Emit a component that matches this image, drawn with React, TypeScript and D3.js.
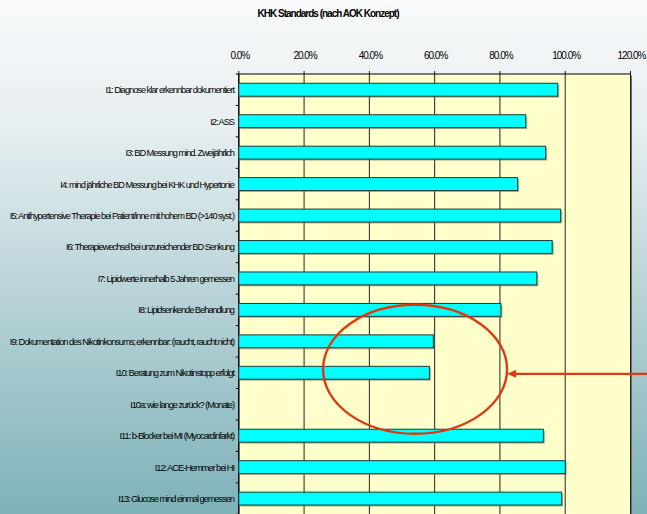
import React from "react";
import * as d3 from "d3";

const TITLE = "KHK Standards (nach AOK Konzept)";

const categories: string[] = [
  "I1: Diagnose klar erkennbar dokumentiert",
  "I2: ASS",
  "I3: BD Messung mind. Zweijährlich",
  "I4: mind jährliche BD Messung bei KHK und Hypertonie",
  "I5: Antihypertensive Therapie bei Patient/inne mit hohem BD (>140 syst.)",
  "I6: Therapiewechsel bei unzureichender BD Senkung",
  "I7: Lipidwerte innerhalb 5 Jahren gemessen",
  "I8: Lipidsenkende Behandlung",
  "I9: Dokumentation des Nikotinkonsums; erkennbar: (raucht, raucht nicht)",
  "I10: Beratung zum Nikotinstopp erfolgt",
  "I10a: wie lange zurück? (Monate)",
  "I11: b-Blocker bei MI (Myocardinfarkt)",
  "I12: ACE-Hemmer bei HI",
  "I13: Glucose mind einmal gemessen",
];

const values: (number | null)[] = [
  0.977, 0.879, 0.94, 0.854, 0.986, 0.96, 0.913, 0.803, 0.596, 0.584, null, 0.933, 1.0, 0.989,
];

const tickValues: number[] = [0, 0.2, 0.4, 0.6, 0.8, 1.0, 1.2];
const tickLabels: string[] = ["0.0%", "20.0%", "40.0%", "60.0%", "80.0%", "100.0%", "120.0%"];

const W = 647;
const H = 514;
const plot = { left: 238.8, right: 630.5, top: 74, bottom: 514.3 };

export default function App() {
  const x = d3.scaleLinear().domain([0, 1.2]).range([plot.left, plot.right]);
  const y = d3
    .scaleBand<string>()
    .domain(categories)
    .range([plot.top, plot.bottom])
    .paddingInner(0.59)
    .paddingOuter(0.295);
  const step = y.step();
  const bw = y.bandwidth();

  const labelFont = "'Liberation Sans', Arial, sans-serif";

  // highlight ellipse around I9/I10/I10a
  const yI9 = (y(categories[8]) as number) + bw / 2;
  const yI10a = (y(categories[10]) as number) + bw / 2;
  const cy = (yI9 + yI10a) / 2 - 3.5;
  const cx = x(0.54);
  const arrowY = cy + 4.5;
  const arrowTip = x(0.822);
  const headLen = 9;
  const headHalf = 4;

  return (
    <svg
      width={W}
      height={H}
      style={{ position: "absolute", left: 0, top: 0, display: "block" }}
      xmlns="http://www.w3.org/2000/svg"
    >
      <defs>
        <linearGradient id="bg" x1="0" y1="0" x2="0" y2="1">
          <stop offset="0" stopColor="#F8FAFB" />
          <stop offset="0.25" stopColor="#E6EEF0" />
          <stop offset="0.55" stopColor="#BCD5D9" />
          <stop offset="1" stopColor="#7DB2B9" />
        </linearGradient>
      </defs>
      <rect x={0} y={0} width={W} height={H} fill="url(#bg)" />

      {/* title */}
      <text
        x={328}
        y={17}
        textAnchor="middle"
        fontFamily={labelFont}
        fontWeight="bold"
        fontSize={10}
        letterSpacing={-1}
        fill="#000"
      >
        {TITLE}
      </text>

      {/* plot area shadow + fill */}
      <rect
        x={plot.left + 1.5}
        y={plot.top + 1.5}
        width={plot.right - plot.left}
        height={plot.bottom - plot.top}
        fill="#6f6f6f"
      />
      <rect
        x={plot.left}
        y={plot.top}
        width={plot.right - plot.left}
        height={plot.bottom - plot.top}
        fill="#FFFFCC"
      />

      {/* vertical gridlines */}
      {tickValues.map((t, i) => (
        <line
          key={"g" + i}
          x1={x(t)}
          x2={x(t)}
          y1={plot.top - 3}
          y2={plot.bottom}
          stroke="#222"
          strokeWidth={1}
        />
      ))}

      {/* top axis */}
      <line x1={plot.left} x2={plot.right} y1={plot.top} y2={plot.top} stroke="#000" strokeWidth={1.2} />
      {tickValues.map((t, i) => (
        <text
          key={"t" + i}
          x={x(t) + 1}
          y={59}
          textAnchor="middle"
          fontFamily={labelFont}
          fontSize={10}
          letterSpacing={-1}
          fill="#000"
        >
          {tickLabels[i]}
        </text>
      ))}

      {/* left axis */}
      <line x1={plot.left} x2={plot.left} y1={plot.top} y2={plot.bottom} stroke="#000" strokeWidth={1.2} />
      {d3.range(categories.length + 1).map((i) => (
        <line
          key={"lt" + i}
          x1={plot.left - 3}
          x2={plot.left}
          y1={plot.top + i * step}
          y2={plot.top + i * step}
          stroke="#000"
          strokeWidth={1}
        />
      ))}

      {/* category labels */}
      {categories.map((c) => (
        <text
          key={"c" + c}
          x={234}
          y={(y(c) as number) + bw / 2 + 3.5}
          textAnchor="end"
          fontFamily={labelFont}
          fontSize={9.3}
          letterSpacing={-1.05}
          fill="#000"
        >
          {c}
        </text>
      ))}

      {/* bars */}
      {categories.map((c, i) => {
        const v = values[i];
        if (v == null || v <= 0) return null;
        const by = y(c) as number;
        const w = x(v) - x(0);
        return (
          <g key={"b" + c}>
            <rect x={x(0) + 1.5} y={by + 1.5} width={w} height={bw} fill="#6b6b55" opacity={0.55} />
            <rect x={x(0)} y={by} width={w} height={bw} fill="#00FFFF" stroke="#1c3c3c" strokeWidth={1} />
          </g>
        );
      })}

      {/* highlight */}
      <ellipse cx={cx} cy={cy} rx={92} ry={64.5} fill="none" stroke="#E2380E" strokeWidth={2.4} />
      <line
        x1={W + 2}
        x2={arrowTip + headLen - 1}
        y1={arrowY}
        y2={arrowY}
        stroke="#E2380E"
        strokeWidth={2.2}
      />
      <path
        d={`M${arrowTip},${arrowY} L${arrowTip + headLen},${arrowY - headHalf} L${arrowTip + headLen},${arrowY + headHalf} Z`}
        fill="#E2380E"
      />
    </svg>
  );
}
